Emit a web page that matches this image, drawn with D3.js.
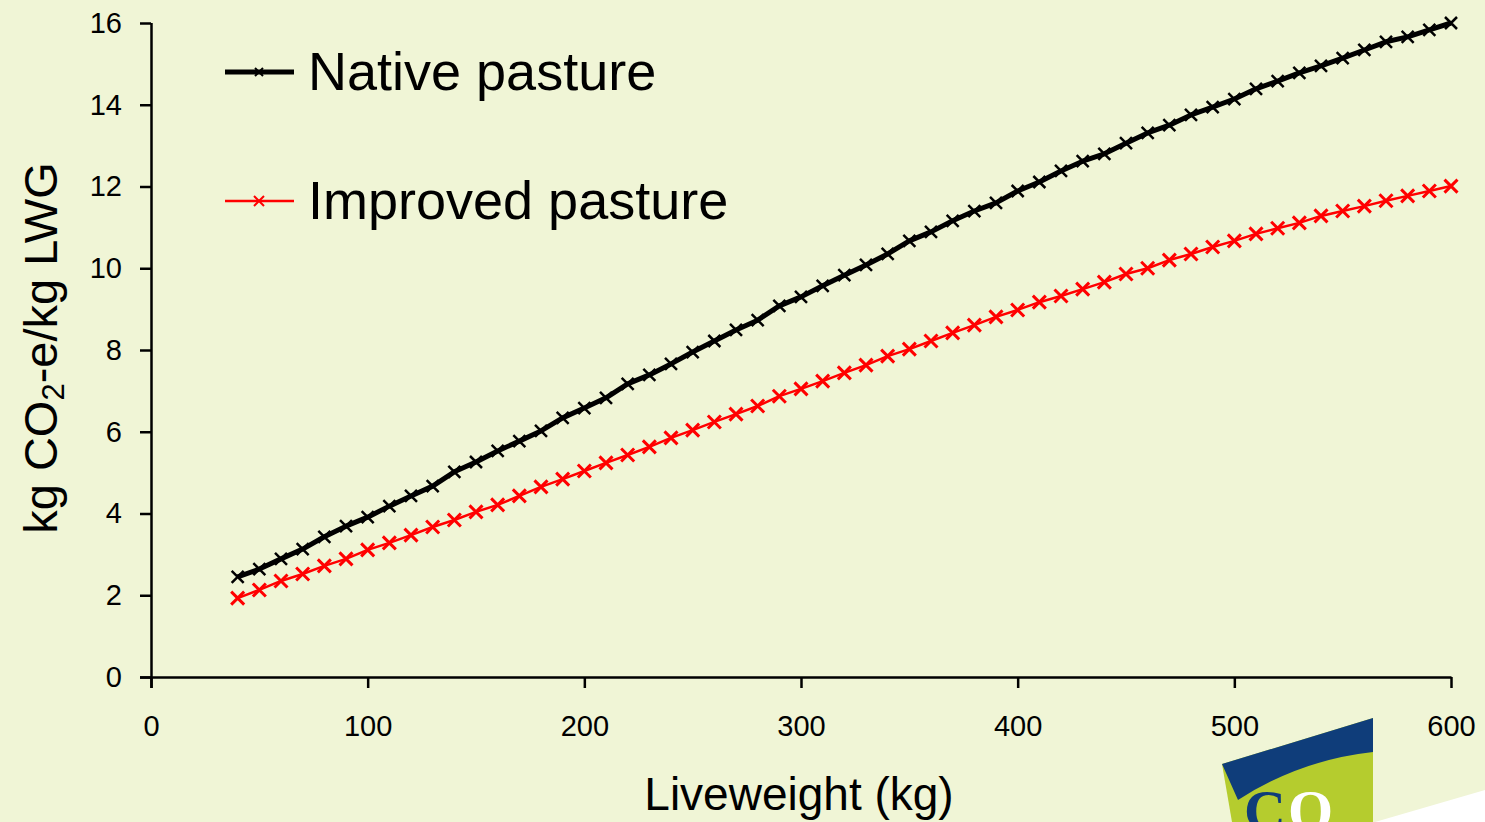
<!DOCTYPE html>
<html><head><meta charset="utf-8">
<script src="https://cdn.jsdelivr.net/npm/d3@7"></script>
<style>html,body{margin:0;padding:0;background:#F0F5D6;}svg{display:block;font-family:"Liberation Sans",Arial,sans-serif;}</style>
</head><body>
<svg id="c" width="1485" height="822"></svg>
<script>
const liveweight = d3.range(40, 601, 10);
const nativePasture = [2.45,2.64,2.89,3.13,3.43,3.69,3.91,4.18,4.43,4.67,5.02,5.26,5.53,5.77,6.02,6.34,6.58,6.83,7.17,7.39,7.66,7.95,8.22,8.49,8.73,9.08,9.30,9.57,9.83,10.08,10.35,10.67,10.89,11.16,11.40,11.60,11.89,12.11,12.38,12.62,12.80,13.06,13.31,13.50,13.75,13.94,14.14,14.39,14.58,14.78,14.95,15.14,15.34,15.54,15.66,15.83,16.00];
const improvedPasture = [1.93,2.13,2.35,2.52,2.72,2.89,3.11,3.28,3.47,3.67,3.84,4.04,4.21,4.43,4.65,4.84,5.04,5.24,5.43,5.63,5.85,6.04,6.24,6.43,6.63,6.87,7.05,7.24,7.44,7.63,7.85,8.02,8.22,8.42,8.61,8.81,8.98,9.17,9.32,9.49,9.66,9.86,10.00,10.20,10.35,10.52,10.67,10.84,10.98,11.11,11.28,11.40,11.52,11.65,11.77,11.89,12.01];
const xTicks = [0,100,200,300,400,500,600];
const yTicks = [0,2,4,6,8,10,12,14,16];
const seriesNames = ["Native pasture","Improved pasture"];

const svg = d3.select("#c");
const x = d3.scaleLinear().domain([0,600]).range([151,1451]);
const y = d3.scaleLinear().domain([0,16]).range([677,23]);

// logo (decorative)
const logo = svg.append("g");
logo.append("polygon").attr("points","1375,822 1485,790 1485,822").attr("fill","#ffffff");
logo.append("polygon").attr("points","1222,764 1373,718 1373,822 1232,822").attr("fill","#B5CC2E");
logo.append("path").attr("d","M1222,764 L1373,718 L1373,752 Q1300,760 1238,800 Z").attr("fill","#0F3D7A");
logo.append("text").attr("x",1244).attr("y",830).attr("font-family","Liberation Serif, serif").attr("font-weight","bold").attr("font-size",58).attr("fill","#0F3D7A").text("C");
logo.append("text").attr("x",1288).attr("y",830).attr("font-family","Liberation Serif, serif").attr("font-weight","bold").attr("font-size",58).attr("fill","#ffffff").text("O");

// axes
const xAxis = svg.append("g").attr("transform","translate(0,677)")
  .call(d3.axisBottom(x).tickValues(xTicks).tickSize(11).tickPadding(27).tickFormat(d3.format("d")));
const yAxis = svg.append("g").attr("transform","translate(151,0)")
  .call(d3.axisLeft(y).tickValues(yTicks).tickSize(11).tickPadding(18).tickFormat(d3.format("d")));
[xAxis,yAxis].forEach(a=>{
  a.select(".domain").attr("stroke","#000").attr("stroke-width",2.5);
  a.selectAll(".tick line").attr("stroke","#000").attr("stroke-width",2.5);
  a.selectAll(".tick text").attr("fill","#000").attr("font-size",29).attr("font-family","Liberation Sans, Arial, sans-serif");
});
xAxis.select(".domain").attr("d","M140,0.5H1451.5");
yAxis.select(".domain").attr("d","M0.5,688V23");

// axis titles
svg.append("text").attr("x",799).attr("y",810).attr("text-anchor","middle").attr("font-size",46).attr("fill","#000").text("Liveweight (kg)");
const yt = svg.append("text").attr("transform","translate(57,348) rotate(-90)").attr("text-anchor","middle").attr("font-size",47).attr("fill","#000");
yt.append("tspan").text("kg CO");
yt.append("tspan").attr("font-size",31).attr("dy",7).text("2");
yt.append("tspan").attr("dy",-7).text("-e/kg LWG");

const line = d3.line().x((d,i)=>x(liveweight[i])).y(d=>y(d));
function cross(g, cx, cy, s, col, w){
  g.append("path").attr("d",`M${cx-s},${cy-s}L${cx+s},${cy+s}M${cx-s},${cy+s}L${cx+s},${cy-s}`).attr("stroke",col).attr("stroke-width",w).attr("fill","none");
}
const series = [
  {name:seriesNames[0], values:nativePasture, color:"#000000", lw:5, ms:6, mw:2.5},
  {name:seriesNames[1], values:improvedPasture, color:"#FF0000", lw:2.5, ms:6.5, mw:3}
];
series.forEach(s=>{
  const g = svg.append("g");
  g.append("path").datum(s.values).attr("d",line).attr("fill","none").attr("stroke",s.color).attr("stroke-width",s.lw).attr("stroke-linejoin","round");
  s.values.forEach((v,i)=>cross(g, x(liveweight[i]), y(v), s.ms, s.color, s.mw));
});

// legend
const legY = [72, 201];
series.forEach((s,i)=>{
  const g = svg.append("g");
  g.append("line").attr("x1",225).attr("x2",294).attr("y1",legY[i]).attr("y2",legY[i]).attr("stroke",s.color).attr("stroke-width",i===0?5:2.5);
  cross(g, 259, legY[i], i===0?4:5, s.color, 2);
  g.append("text").attr("x",308).attr("y",legY[i]+18).attr("font-size",54).attr("fill","#000").text(s.name);
});
</script>
</body></html>
